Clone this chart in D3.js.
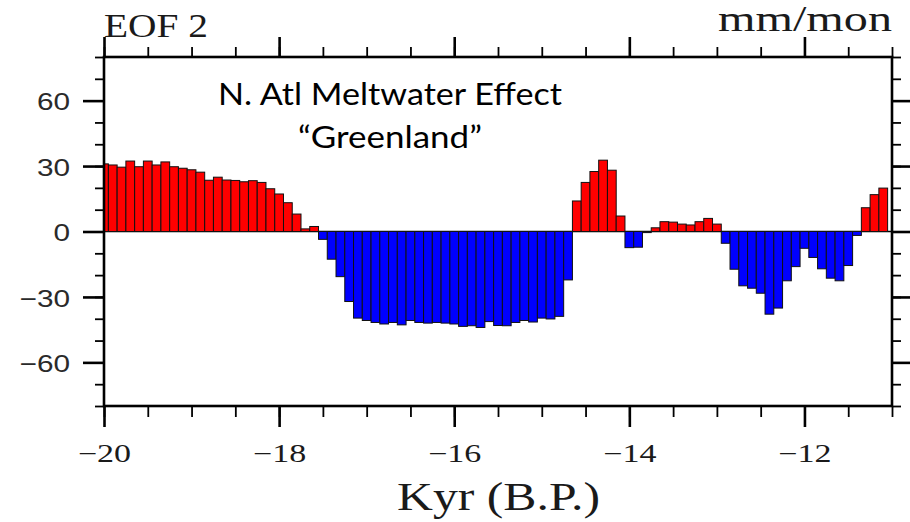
<!DOCTYPE html>
<html>
<head>
<meta charset="utf-8">
<script src="https://cdn.jsdelivr.net/npm/d3@7"></script>
<style>
  html, body { margin: 0; padding: 0; background: #fff; }
  svg { display: block; }
</style>
</head>
<body>
<svg id="chart" width="910" height="522"></svg>
<script>
// Time axis (kyr B.P., negative = before present), one bar per 0.1 kyr
const kyr = [
  -20.0, -19.9, -19.8, -19.7, -19.6, -19.5, -19.4, -19.3, -19.2, -19.1,
  -19.0, -18.9, -18.8, -18.7, -18.6, -18.5, -18.4, -18.3, -18.2, -18.1,
  -18.0, -17.9, -17.8, -17.7, -17.6, -17.5, -17.4, -17.3, -17.2, -17.1,
  -17.0, -16.9, -16.8, -16.7, -16.6, -16.5, -16.4, -16.3, -16.2, -16.1,
  -16.0, -15.9, -15.8, -15.7, -15.6, -15.5, -15.4, -15.3, -15.2, -15.1,
  -15.0, -14.9, -14.8, -14.7, -14.6, -14.5, -14.4, -14.3, -14.2, -14.1,
  -14.0, -13.9, -13.8, -13.7, -13.6, -13.5, -13.4, -13.3, -13.2, -13.1,
  -13.0, -12.9, -12.8, -12.7, -12.6, -12.5, -12.4, -12.3, -12.2, -12.1,
  -12.0, -11.9, -11.8, -11.7, -11.6, -11.5, -11.4, -11.3, -11.2, -11.1
];

// EOF 2 principal component amplitude (mm/mon)
const eof2 = [
   31.0,  30.5,  29.5,  32.3,  29.7,  32.3,  30.5,  31.9,  29.7,  29.0,
   28.3,  27.2,  23.5,  24.9,  23.6,  23.4,  22.8,  23.3,  22.5,  19.6,
   17.2,  13.2,   8.0,   1.2,   2.3,  -3.6, -12.7, -20.7, -32.1, -39.7,
  -40.8, -41.7, -42.4, -41.7, -42.8, -40.8, -41.7, -42.0, -41.7, -42.0,
  -42.4, -43.5, -43.2, -44.0, -41.3, -43.1, -43.2, -41.7, -40.8, -41.5,
  -39.7, -40.1, -38.9, -22.2,  14.0,  22.5,  27.5,  32.7,  28.1,   7.1,
   -7.4,  -7.2,  -0.5,   1.7,   4.5,   4.3,   3.4,   3.0,   4.5,   6.0,
    3.4,  -5.4, -17.3, -24.9, -26.0, -28.3, -37.9, -35.1, -22.6, -16.1,
   -7.7, -11.9, -17.1, -21.4, -22.6, -15.6,  -1.8,  10.9,  16.9,  19.9
];

const xMajorTicks = [-20, -18, -16, -14, -12];
const xMinorTicks = [-20, -19.5, -19, -18.5, -18, -17.5, -17, -16.5, -16, -15.5,
                     -15, -14.5, -14, -13.5, -13, -12.5, -12, -11.5, -11];
const yMajorTicks = [-60, -30, 0, 30, 60];
const yMinorTicks = [-80, -70, -60, -50, -40, -30, -20, -10, 0, 10, 20, 30, 40, 50, 60, 70, 80];

const titleLeft = "EOF 2";
const titleRight = "mm/mon";
const xTitle = "Kyr (B.P.)";
const noteLines = ["N. Atl Meltwater Effect", "\u201CGreenland\u201D"];

const svg = d3.select("#chart");
const plot = { left: 104, right: 892, top: 57, bottom: 406 };
const barHalf = 0.05;

const x = d3.scaleLinear().domain([-20, -11]).range([plot.left, plot.right]);
const y = d3.scaleLinear().domain([-80, 80]).range([plot.bottom, plot.top]);

// clip bars to the plotting frame
svg.append("clipPath").attr("id", "plotClip")
  .append("rect")
  .attr("x", plot.left).attr("y", plot.top)
  .attr("width", plot.right - plot.left).attr("height", plot.bottom - plot.top);

const data = kyr.map((k, i) => ({ k, v: eof2[i] }));

const bars = svg.append("g").attr("clip-path", "url(#plotClip)");

bars.append("line")
  .attr("x1", plot.left).attr("x2", plot.right)
  .attr("y1", y(0)).attr("y2", y(0))
  .attr("stroke", "#000").attr("stroke-width", 1.5);

bars.selectAll("rect.bar")
  .data(data)
  .join("rect")
  .attr("class", "bar")
  .attr("x", d => x(d.k - barHalf))
  .attr("width", d => x(d.k + barHalf) - x(d.k - barHalf))
  .attr("y", d => y(Math.max(0, d.v)))
  .attr("height", d => Math.abs(y(d.v) - y(0)))
  .attr("fill", d => d.v >= 0 ? "#ff0000" : "#0000ff")
  .attr("stroke", "#111")
  .attr("stroke-width", 1);

// axes: minor and major tick sets on all four sides, ticks pointing outward
function tickSet(axis, translate, size, width) {
  const g = svg.append("g")
    .attr("transform", translate)
    .call(axis.tickSize(size).tickSizeOuter(0));
  g.select(".domain").remove();
  g.selectAll(".tick line").attr("stroke", "#000").attr("stroke-width", width);
  return g;
}

tickSet(d3.axisBottom(x).tickValues(xMinorTicks).tickFormat(""), `translate(0,${plot.bottom})`, 11, 1.8);
tickSet(d3.axisTop(x).tickValues(xMinorTicks).tickFormat(""), `translate(0,${plot.top})`, 10, 1.8);
tickSet(d3.axisLeft(y).tickValues(yMinorTicks).tickFormat(""), `translate(${plot.left},0)`, 9, 1.8);
tickSet(d3.axisRight(y).tickValues(yMinorTicks).tickFormat(""), `translate(${plot.right},0)`, 9, 1.8);

const xBottom = tickSet(d3.axisBottom(x).tickValues(xMajorTicks), `translate(0,${plot.bottom})`, 21, 2.6);
tickSet(d3.axisTop(x).tickValues(xMajorTicks).tickFormat(""), `translate(0,${plot.top})`, 20, 2.6);
const yLeft = tickSet(d3.axisLeft(y).tickValues(yMajorTicks), `translate(${plot.left},0)`, 21, 2.6);
tickSet(d3.axisRight(y).tickValues(yMajorTicks).tickFormat(""), `translate(${plot.right},0)`, 21, 2.6);

const serif = "'Liberation Serif', 'Times New Roman', serif";

xBottom.selectAll(".tick text")
  .attr("y", 0).attr("dy", 0)
  .attr("transform", "translate(0,56) scale(1.36,1)")
  .attr("text-anchor", "middle")
  .attr("fill", "#1a1a1a")
  .style("font-family", serif)
  .style("font-size", "25px");

yLeft.selectAll(".tick text")
  .attr("x", 0).attr("dy", 0)
  .attr("transform", "translate(-34,9.3) scale(1.24,1)")
  .attr("text-anchor", "end")
  .attr("fill", "#2a2a2a")
  .style("font-family", "'Liberation Sans', Arial, sans-serif")
  .style("font-size", "24px");

// plot frame
svg.append("rect")
  .attr("x", plot.left).attr("y", plot.top)
  .attr("width", plot.right - plot.left).attr("height", plot.bottom - plot.top)
  .attr("fill", "none").attr("stroke", "#000").attr("stroke-width", 2.6);

// titles
svg.append("text")
  .attr("x", 104).attr("y", 37)
  .attr("textLength", 104).attr("lengthAdjust", "spacingAndGlyphs")
  .style("font-family", serif).style("font-size", "33px")
  .attr("fill", "#1a1a1a")
  .text(titleLeft);

svg.append("text")
  .attr("x", 718).attr("y", 31)
  .attr("textLength", 174).attr("lengthAdjust", "spacingAndGlyphs")
  .style("font-family", serif).style("font-size", "36px")
  .attr("fill", "#1a1a1a")
  .text(titleRight);

svg.append("text")
  .attr("x", 397).attr("y", 510)
  .attr("textLength", 203).attr("lengthAdjust", "spacingAndGlyphs")
  .style("font-family", serif).style("font-size", "40px")
  .attr("fill", "#1a1a1a")
  .text(xTitle);

// annotation
const noteLayout = [
  { x: 218, y: 105, w: 344 },
  { x: 298, y: 148, w: 184 }
];
svg.selectAll("text.note")
  .data(noteLines)
  .join("text")
  .attr("class", "note")
  .attr("x", (d, i) => noteLayout[i].x)
  .attr("y", (d, i) => noteLayout[i].y)
  .attr("textLength", (d, i) => noteLayout[i].w)
  .attr("lengthAdjust", "spacingAndGlyphs")
  .style("font-family", "Lato, 'Open Sans', sans-serif")
  .style("font-size", "30px")
  .attr("fill", "#000")
  .text(d => d);
</script>
</body>
</html>
